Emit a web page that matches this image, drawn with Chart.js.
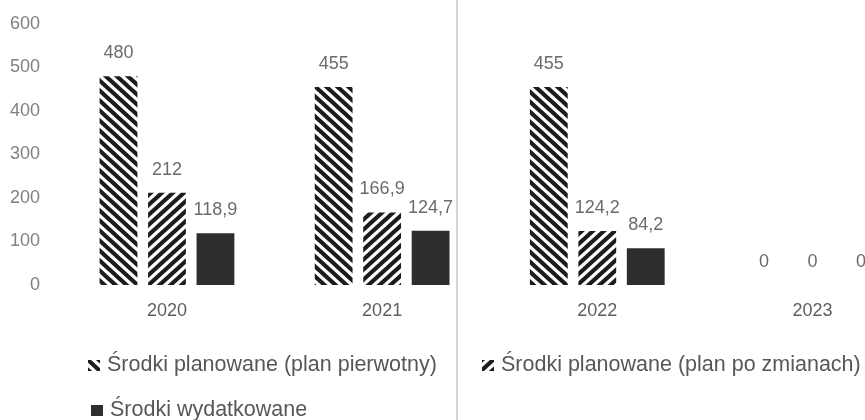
<!DOCTYPE html>
<html>
<head>
<meta charset="utf-8">
<script src="https://cdn.jsdelivr.net/npm/chart.js@4.4.1/dist/chart.umd.min.js"></script>
<style>
  html, body { margin: 0; padding: 0; background: #fff; overflow: hidden; width: 865px; height: 420px; }
  #wrap { position: absolute; left: 0; top: 0; width: 920px; height: 420px; }
  #divider { position: absolute; left: 456px; top: 0; width: 2px; height: 420px; background: #d6d6d6; }
  .leg { position: absolute; display: flex; align-items: center; font-family: 'Liberation Sans', Arial, sans-serif; font-size: 21.5px; color: #575757; white-space: nowrap; line-height: 1; }
  .leg canvas { margin-right: 7px; }
</style>
</head>
<body>
<div id="wrap"><canvas id="c"></canvas></div>
<div id="divider"></div>
<div id="legend"></div>
<script>
const categories = ['2020', '2021', '2022', '2023'];
const planPierwotny = [480, 455, 455, 0];
const planPoZmianach = [212, 166.9, 124.2, 0];
const wydatkowane = [118.9, 124.7, 84.2, 0];
const seriesLabels = [
  'Środki planowane (plan pierwotny)',
  'Środki planowane (plan po zmianach)',
  'Środki wydatkowane'
];

function stripePattern(dir) {
  const w = 11, h = 10;
  const c = document.createElement('canvas');
  c.width = w; c.height = h;
  const g = c.getContext('2d');
  g.strokeStyle = '#1c1c1c';
  g.lineWidth = 4.2;
  g.lineCap = 'square';
  for (const off of [-h, 0, h]) {
    g.beginPath();
    if (dir === 'back') {
      g.moveTo(-w, -h + off); g.lineTo(2 * w, 2 * h + off);
    } else {
      g.moveTo(-w, 2 * h + off); g.lineTo(2 * w, -h + off);
    }
    g.stroke();
  }
  return g.createPattern(c, 'repeat');
}

const ctx = document.getElementById('c').getContext('2d');
const fills = [stripePattern('back'), stripePattern('fwd'), '#2e2e2e'];

const valueLabels = {
  id: 'valueLabels',
  afterDatasetsDraw(chart) {
    const g = chart.ctx;
    g.save();
    g.font = '18px "Liberation Sans", Arial, sans-serif';
    g.fillStyle = '#6b6b6b';
    g.textAlign = 'center';
    g.textBaseline = 'middle';
    chart.data.datasets.forEach((ds, i) => {
      const meta = chart.getDatasetMeta(i);
      meta.data.forEach((el, j) => {
        const v = ds.data[j];
        const txt = String(v).replace('.', ',');
        g.fillText(txt, el.x, el.y - 23);
      });
    });
    g.restore();
  }
};

const chart = new Chart(ctx, {
  type: 'bar',
  data: {
    labels: categories,
    datasets: [
      { label: seriesLabels[0], data: planPierwotny, backgroundColor: fills[0] },
      { label: seriesLabels[1], data: planPoZmianach, backgroundColor: fills[1] },
      { label: seriesLabels[2], data: wydatkowane, backgroundColor: fills[2] }
    ]
  },
  options: {
    responsive: true,
    maintainAspectRatio: false,
    animation: false,
    datasets: { bar: { categoryPercentage: 0.676, barPercentage: 0.78 } },
    layout: { padding: { top: 24, right: 0, bottom: 0, left: 0 } },
    plugins: { legend: { display: false }, tooltip: { enabled: false } },
    scales: {
      x: {
        grid: { display: false, drawTicks: false },
        border: { display: false },
        ticks: { color: '#5e5e5e', padding: 15, font: { family: "'Liberation Sans', Arial, sans-serif", size: 18 } },
        afterFit(scale) { scale.height = 135; scale.paddingLeft = 0; scale.paddingRight = 0; }
      },
      y: {
        min: 0, max: 600,
        grid: { display: false, drawTicks: false },
        border: { display: false },
        ticks: { stepSize: 100, color: '#808080', padding: 19.4, font: { family: "'Liberation Sans', Arial, sans-serif", size: 18 } },
        afterFit(scale) { scale.width = 59.4; scale.paddingTop = 0; scale.paddingBottom = 0; }
      }
    }
  },
  plugins: [valueLabels]
});

// HTML legend built from the series labels
const legendPos = [
  { left: 88, top: 365 },
  { left: 482, top: 365 },
  { left: 91, top: 410 }
];
const legendEl = document.getElementById('legend');
seriesLabels.forEach((lab, i) => {
  const item = document.createElement('div');
  item.className = 'leg';
  item.style.left = legendPos[i].left + 'px';
  item.style.top = (legendPos[i].top - 11) + 'px';
  item.style.height = '22px';
  const ic = document.createElement('canvas');
  ic.width = 12; ic.height = 11;
  const g = ic.getContext('2d');
  g.fillStyle = fills[i];
  g.fillRect(0, 0, 12, 11);
  const sp = document.createElement('span');
  sp.textContent = lab;
  item.appendChild(ic);
  item.appendChild(sp);
  legendEl.appendChild(item);
});
</script>
</body>
</html>
